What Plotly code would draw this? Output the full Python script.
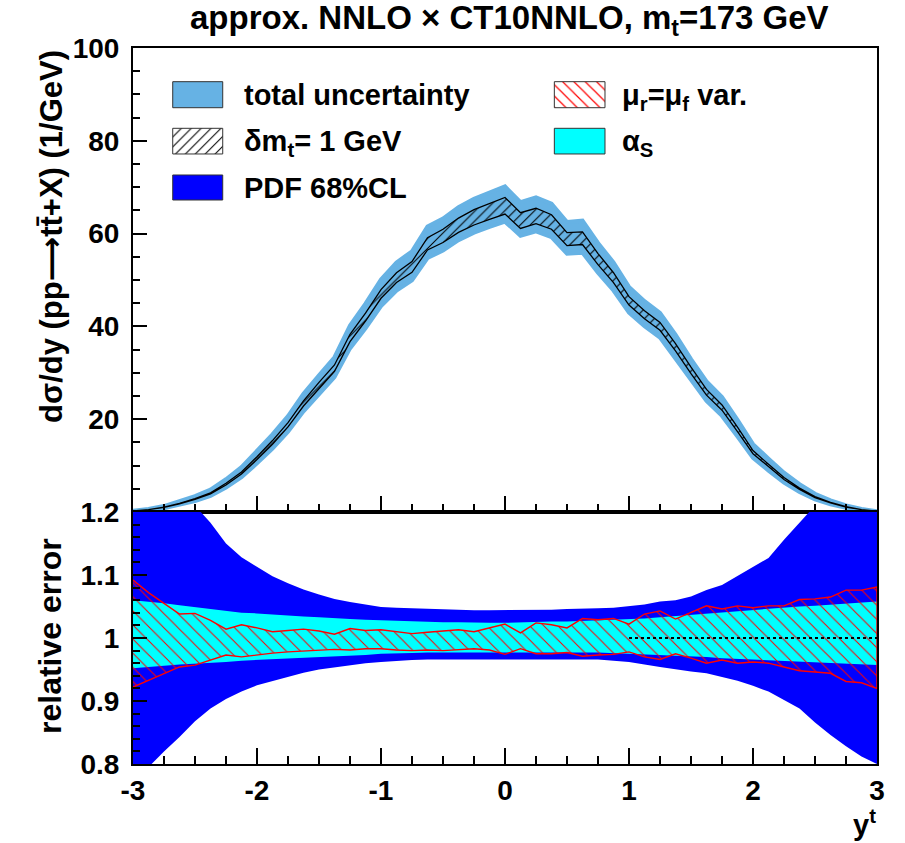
import plotly.graph_objects as go

# ---------------- data ----------------
x_vals = [-3.0, -2.875, -2.75, -2.625, -2.5, -2.375, -2.25, -2.125, -2.0, -1.875,
          -1.75, -1.625, -1.5, -1.375, -1.25, -1.125, -1.0, -0.875, -0.75, -0.625,
          -0.5, -0.375, -0.25, -0.125, 0.0, 0.125, 0.25, 0.375, 0.5, 0.625,
          0.75, 0.875, 1.0, 1.125, 1.25, 1.375, 1.5, 1.625, 1.75, 1.875,
          2.0, 2.125, 2.25, 2.375, 2.5, 2.625, 2.75, 2.875, 3.0]

# central d sigma / dy (1/GeV)
central = [0.2, 0.5, 1.0, 1.8, 2.8, 4.0, 6.0, 8.4, 11.6, 15.0,
           18.8, 23.4, 27.3, 31.0, 37.5, 42.0, 47.0, 50.5, 52.8, 57.8,
           59.5, 61.8, 63.5, 64.8, 66.0, 62.8, 63.8, 62.5, 58.8, 59.0,
           54.5, 50.5, 45.5, 42.5, 40.0, 35.5, 30.5, 25.8, 22.5, 17.8,
           12.9, 10.0, 7.2, 5.0, 3.2, 2.0, 1.1, 0.5, 0.2]

# total uncertainty (relative, up / down)
tot_up_rel = [0.33, 0.31, 0.28, 0.25, 0.226, 0.20, 0.175, 0.15, 0.134, 0.115,
              0.10, 0.09, 0.08, 0.076, 0.072, 0.069, 0.066, 0.065, 0.064, 0.064,
              0.063, 0.063, 0.063, 0.063, 0.063, 0.063, 0.063, 0.063, 0.063, 0.064,
              0.064, 0.065, 0.066, 0.069, 0.072, 0.076, 0.08, 0.09, 0.10, 0.115,
              0.134, 0.15, 0.175, 0.20, 0.226, 0.25, 0.28, 0.31, 0.33]
tot_dn_rel = [0.21, 0.19, 0.18, 0.17, 0.157, 0.14, 0.12, 0.108, 0.097, 0.088,
              0.08, 0.073, 0.066, 0.063, 0.06, 0.058, 0.056, 0.055, 0.054, 0.053,
              0.053, 0.052, 0.052, 0.052, 0.052, 0.052, 0.052, 0.052, 0.053, 0.053,
              0.054, 0.055, 0.056, 0.058, 0.06, 0.063, 0.066, 0.073, 0.08, 0.088,
              0.097, 0.108, 0.12, 0.14, 0.157, 0.17, 0.18, 0.19, 0.21]

# delta m_t = 1 GeV band (relative half width)
mt_rel = [0.030, 0.030, 0.030, 0.030, 0.030, 0.029, 0.029, 0.028, 0.027, 0.026,
          0.025, 0.024, 0.023, 0.022, 0.021, 0.020, 0.020, 0.021, 0.022, 0.023,
          0.024, 0.025, 0.026, 0.027, 0.027, 0.027, 0.026, 0.025, 0.024, 0.023,
          0.022, 0.021, 0.020, 0.020, 0.021, 0.022, 0.023, 0.024, 0.025, 0.026,
          0.027, 0.028, 0.029, 0.029, 0.030, 0.030, 0.030, 0.030, 0.030]

# PDF 68% CL (ratio)
pdf_up = [1.32, 1.30, 1.27, 1.24, 1.21, 1.183, 1.15, 1.128, 1.113, 1.098,
          1.087, 1.077, 1.069, 1.062, 1.057, 1.053, 1.049, 1.048, 1.047, 1.046,
          1.045, 1.045, 1.044, 1.044, 1.044, 1.044, 1.045, 1.045, 1.046, 1.046,
          1.047, 1.048, 1.050, 1.053, 1.058, 1.060, 1.066, 1.076, 1.084, 1.098,
          1.113, 1.127, 1.156, 1.182, 1.21, 1.24, 1.27, 1.30, 1.32]
pdf_dn = [0.76, 0.795, 0.82, 0.843, 0.868, 0.888, 0.903, 0.915, 0.925, 0.932,
          0.938, 0.945, 0.950, 0.954, 0.957, 0.960, 0.962, 0.964, 0.965, 0.966,
          0.966, 0.967, 0.967, 0.967, 0.967, 0.967, 0.966, 0.966, 0.966, 0.966,
          0.966, 0.964, 0.962, 0.958, 0.954, 0.950, 0.947, 0.944, 0.938, 0.932,
          0.924, 0.915, 0.902, 0.888, 0.866, 0.846, 0.828, 0.812, 0.80]

# alpha_s (ratio)
as_up = [1.060, 1.058, 1.055, 1.052, 1.049, 1.046, 1.042, 1.040, 1.039, 1.037,
         1.035, 1.034, 1.033, 1.031, 1.030, 1.029, 1.028, 1.027, 1.026, 1.026,
         1.025, 1.025, 1.024, 1.024, 1.024, 1.025, 1.025, 1.026, 1.026, 1.027,
         1.028, 1.028, 1.029, 1.031, 1.033, 1.035, 1.037, 1.039, 1.041, 1.043,
         1.044, 1.046, 1.048, 1.050, 1.051, 1.053, 1.055, 1.057, 1.058]
as_dn = [0.952, 0.954, 0.956, 0.958, 0.960, 0.961, 0.962, 0.964, 0.965, 0.967,
         0.968, 0.969, 0.970, 0.971, 0.972, 0.973, 0.975, 0.976, 0.976, 0.977,
         0.977, 0.978, 0.978, 0.978, 0.978, 0.978, 0.978, 0.978, 0.977, 0.977,
         0.977, 0.976, 0.976, 0.975, 0.974, 0.972, 0.971, 0.970, 0.968, 0.966,
         0.965, 0.964, 0.963, 0.962, 0.961, 0.960, 0.959, 0.958, 0.957]

# mu_r = mu_f scale variation (ratio)
sc_up = [1.092, 1.072, 1.055, 1.038, 1.039, 1.028, 1.014, 1.021, 1.016, 1.010,
         1.012, 1.014, 1.011, 1.006, 1.015, 1.012, 1.013, 1.010, 1.007, 1.009,
         1.011, 1.013, 1.010, 1.016, 1.022, 1.008, 1.024, 1.021, 1.016, 1.031,
         1.029, 1.031, 1.022, 1.038, 1.043, 1.030, 1.040, 1.051, 1.046, 1.051,
         1.048, 1.051, 1.051, 1.061, 1.062, 1.065, 1.076, 1.076, 1.081]
sc_dn = [0.922, 0.933, 0.943, 0.954, 0.957, 0.965, 0.973, 0.970, 0.973, 0.976,
         0.978, 0.980, 0.981, 0.982, 0.981, 0.983, 0.983, 0.981, 0.980, 0.981,
         0.980, 0.982, 0.983, 0.981, 0.974, 0.983, 0.975, 0.975, 0.977, 0.971,
         0.973, 0.974, 0.978, 0.970, 0.966, 0.975, 0.968, 0.960, 0.965, 0.960,
         0.962, 0.960, 0.954, 0.948, 0.946, 0.944, 0.931, 0.929, 0.920]

ratio_ref = [1.0] * len(x_vals)

x_ticks = [-3, -2, -1, 0, 1, 2, 3]
x_tick_text = ["-3", "-2", "-1", "0", "1", "2", "3"]
y_top_ticks = [20, 40, 60, 80, 100]
y_bot_ticks = [0.8, 0.9, 1.0, 1.1, 1.2]
y_bot_text = ["0.8", "0.9", "1", "1.1", "1.2"]

# ---------------- styling ----------------
FONT = "Liberation Sans, Arial, Helvetica, DejaVu Sans, sans-serif"
LIGHTBLUE = "#66b2e4"
PDFBLUE = "#0000ff"
CYAN = "#00ffff"
RED = "#ff0000"


def band_poly(xs, lo, hi):
    return list(xs) + list(xs)[::-1], list(hi) + list(lo)[::-1]


fig = go.Figure()

# ----- top panel -----
tot_hi = [c * (1 + u) for c, u in zip(central, tot_up_rel)]
tot_lo = [c * (1 - d) for c, d in zip(central, tot_dn_rel)]
px, py = band_poly(x_vals, tot_lo, tot_hi)
fig.add_trace(go.Scatter(x=px, y=py, fill="toself", fillcolor=LIGHTBLUE,
                         line=dict(color=LIGHTBLUE, width=4), mode="lines",
                         xaxis="x", yaxis="y", showlegend=False, hoverinfo="skip"))

mt_hi = [c * (1 + m) for c, m in zip(central, mt_rel)]
mt_lo = [c * (1 - m) for c, m in zip(central, mt_rel)]
px, py = band_poly(x_vals, mt_lo, mt_hi)
fig.add_trace(go.Scatter(x=px, y=py, fill="toself", fillcolor="rgba(0,0,0,0)",
                         fillpattern=dict(shape="/", fgcolor="black", bgcolor="rgba(0,0,0,0)",
                                          size=7, solidity=0.15, fillmode="replace"),
                         line=dict(color="black", width=1.3), mode="lines",
                         xaxis="x", yaxis="y", showlegend=False, hoverinfo="skip"))

# ----- bottom panel -----
px, py = band_poly(x_vals, pdf_dn, pdf_up)
fig.add_trace(go.Scatter(x=px, y=py, fill="toself", fillcolor=PDFBLUE,
                         line=dict(width=0, color=PDFBLUE), mode="lines",
                         xaxis="x2", yaxis="y2", showlegend=False, hoverinfo="skip"))
px, py = band_poly(x_vals, as_dn, as_up)
fig.add_trace(go.Scatter(x=px, y=py, fill="toself", fillcolor=CYAN,
                         line=dict(width=0, color=CYAN), mode="lines",
                         xaxis="x2", yaxis="y2", showlegend=False, hoverinfo="skip"))
px, py = band_poly(x_vals, sc_dn, sc_up)
fig.add_trace(go.Scatter(x=px, y=py, fill="toself", fillcolor="rgba(0,0,0,0)",
                         fillpattern=dict(shape="\\", fgcolor=RED, bgcolor="rgba(0,0,0,0)",
                                          size=10, solidity=0.1, fillmode="replace"),
                         line=dict(color=RED, width=1.4), mode="lines",
                         xaxis="x2", yaxis="y2", showlegend=False, hoverinfo="skip"))
xr = [xv for xv in x_vals if xv >= 1.0]
yr = [r for xv, r in zip(x_vals, ratio_ref) if xv >= 1.0]
fig.add_trace(go.Scatter(x=xr, y=yr, mode="lines", line=dict(color="black", width=1.8, dash="dot"),
                         xaxis="x2", yaxis="y2", showlegend=False, hoverinfo="skip"))

# ----- manual legend (overlay axes on the top panel, range 0..1) -----
def legend_box(x0, x1, y0, y1, fillcolor, pattern=None, edge="#333333"):
    kw = {}
    if pattern is not None:
        kw["fillpattern"] = pattern
    fig.add_trace(go.Scatter(x=[x0, x1, x1, x0, x0], y=[y0, y0, y1, y1, y0],
                             fill="toself", fillcolor=fillcolor, mode="lines",
                             line=dict(color=edge, width=1),
                             xaxis="x3", yaxis="y3", showlegend=False, hoverinfo="skip", **kw))

LX0, LX1 = 0.0534, 0.1206
RX0, RX1 = 0.5663, 0.6344
R1 = (0.8713, 0.9274)
R2 = (0.7716, 0.8269)
R3 = (0.6724, 0.7263)
legend_box(LX0, LX1, *R1, LIGHTBLUE)
legend_box(LX0, LX1, *R2, "rgba(0,0,0,0)",
           dict(shape="/", fgcolor="black", bgcolor="white", size=7, solidity=0.15, fillmode="replace"))
legend_box(LX0, LX1, *R3, PDFBLUE)
legend_box(RX0, RX1, *R1, "rgba(0,0,0,0)",
           dict(shape="\\", fgcolor=RED, bgcolor="white", size=8, solidity=0.15, fillmode="replace"))
legend_box(RX0, RX1, *R2, CYAN)

def py2paper(p):
    return (764 - p) / 716.0

def px2paper(p):
    return (p - 133) / 744.0

LEGF = dict(family=FONT, size=29, color="black", weight="bold")
annotations = [
    dict(text="total uncertainty", x=px2paper(242), y=py2paper(95)),
    dict(text="δm<sub>t</sub>= 1 GeV", x=px2paper(242), y=py2paper(143)),
    dict(text="PDF 68%CL", x=px2paper(242), y=py2paper(188)),
    dict(text="μ<sub>r</sub>=μ<sub>f</sub> var.", x=px2paper(620), y=py2paper(97)),
    dict(text="α<sub>S</sub>", x=px2paper(620), y=py2paper(143)),
]
for a in annotations:
    a.update(xref="paper", yref="paper", xanchor="left", yanchor="middle",
             showarrow=False, font=LEGF)

annotations += [
    dict(text="approx. NNLO × CT10NNLO, m<sub>t</sub>=173 GeV", xref="paper", yref="paper",
         x=px2paper(509), y=py2paper(20), xanchor="center", yanchor="middle", showarrow=False,
         font=dict(family=FONT, size=33, color="black", weight="bold")),
    dict(text="dσ/dy (pp⟶tt̄+X) (1/GeV)", xref="paper", yref="paper",
         x=px2paper(51), y=py2paper(237), xanchor="center", yanchor="middle", textangle=-90,
         showarrow=False, font=dict(family=FONT, size=31, color="black", weight="bold")),
    dict(text="relative error", xref="paper", yref="paper",
         x=px2paper(50), y=py2paper(636), xanchor="center", yanchor="middle", textangle=-90,
         showarrow=False, font=dict(family=FONT, size=32, color="black", weight="bold")),
    dict(text="y<sup>t</sup>", xref="paper", yref="paper",
         x=px2paper(878), y=py2paper(823), xanchor="right", yanchor="middle",
         showarrow=False, font=dict(family=FONT, size=29, color="black", weight="bold")),
]

TICKF = dict(family=FONT, size=28, color="black", weight="bold")
common_x = dict(range=[-3, 3], tickvals=x_ticks, ticktext=x_tick_text, ticks="inside",
                ticklen=16, tickwidth=1.5,
                tickcolor="black", showline=True, linecolor="black", linewidth=2, mirror=True,
                showgrid=False, zeroline=False,
                minor=dict(dtick=0.25, tick0=0, ticks="inside", ticklen=8, tickwidth=1.5,
                           tickcolor="black", showgrid=False))

fig.update_layout(
    width=905, height=843,
    margin=dict(l=133, r=28, t=48, b=79),
    paper_bgcolor="white", plot_bgcolor="rgba(0,0,0,0)",
    font=dict(family=FONT, color="black"),
    showlegend=False,
    xaxis=dict(**common_x, anchor="y", showticklabels=False, domain=[0, 1]),
    yaxis=dict(range=[0, 100], domain=[0.352, 1], anchor="x", tickvals=y_top_ticks,
               ticks="inside", ticklen=14, tickwidth=1.5, tickcolor="black",
               showline=True, linecolor="black", linewidth=2, mirror=True,
               showgrid=False, zeroline=False, tickfont=TICKF, ticklabelstandoff=6,
               minor=dict(dtick=5, tick0=0, ticks="inside", ticklen=7, tickwidth=1.5,
                          tickcolor="black", showgrid=False)),
    xaxis2=dict(**common_x, anchor="y2", matches="x", tickfont=TICKF, domain=[0, 1],
                ticklabelstandoff=0),
    yaxis2=dict(range=[0.8, 1.2], domain=[0, 0.352], anchor="x2", tickvals=y_bot_ticks,
                ticktext=y_bot_text, ticks="inside", ticklen=14, tickwidth=1.5,
                tickcolor="black", showline=True, linecolor="black", linewidth=2, mirror=True,
                showgrid=False, zeroline=False, tickfont=TICKF, ticklabelstandoff=6,
                minor=dict(dtick=0.02, tick0=0.8, ticks="inside", ticklen=7, tickwidth=1.5,
                           tickcolor="black", showgrid=False)),
    xaxis3=dict(range=[0, 1], overlaying="x", visible=False, fixedrange=True),
    yaxis3=dict(range=[0, 1], overlaying="y", visible=False, fixedrange=True),
    annotations=annotations,
)

fig.write_html("out.html")
